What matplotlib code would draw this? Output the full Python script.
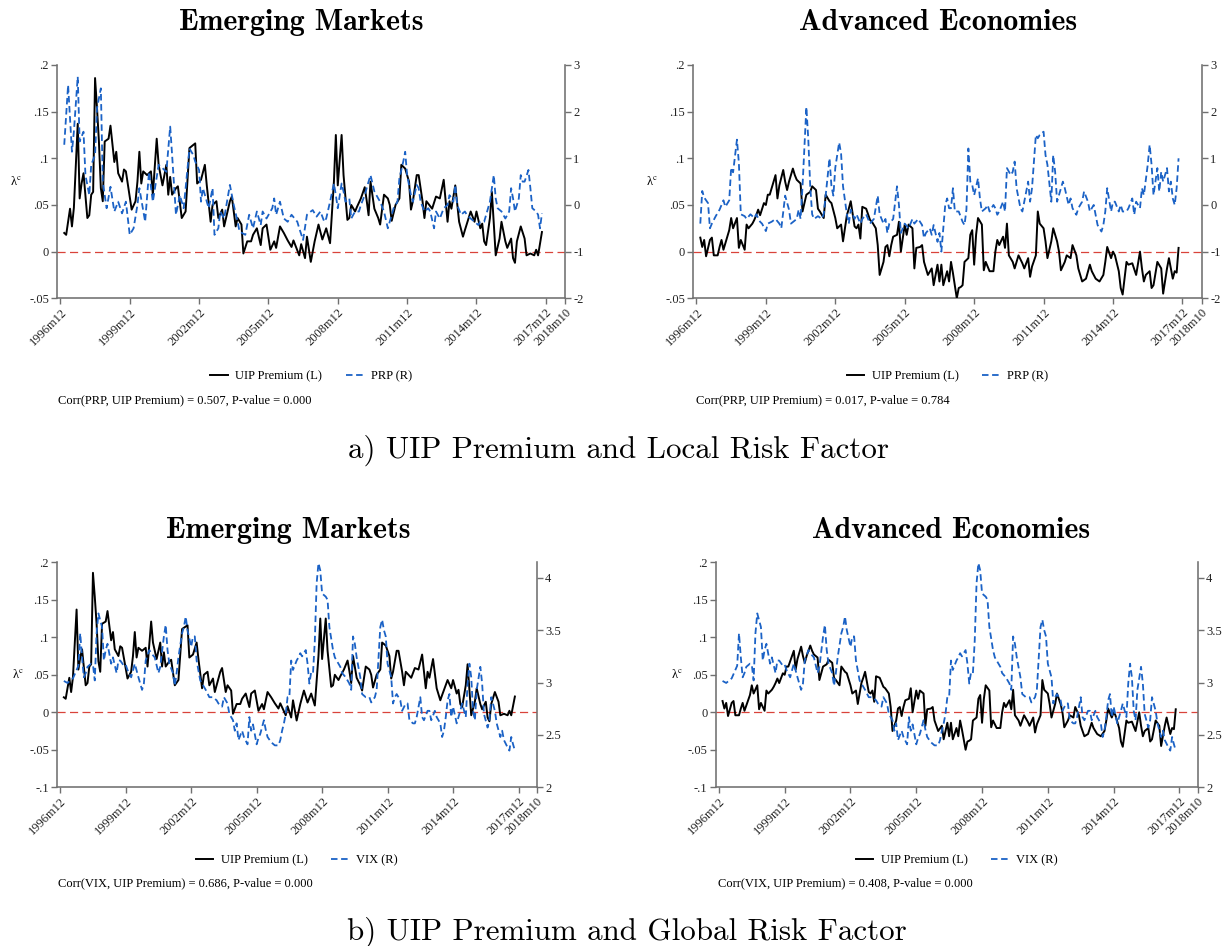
import matplotlib
matplotlib.use("Agg")
import matplotlib.pyplot as plt
from matplotlib.lines import Line2D

plt.rcParams['font.family'] = ['Liberation Serif', 'DejaVu Serif']
plt.rcParams['mathtext.fontset'] = 'stix'

# x axis: months counted from 1996m12
tick_pos = [0, 36, 72, 108, 144, 180, 216, 252, 262]
tick_lab = ['1996m12', '1999m12', '2002m12', '2005m12', '2008m12',
            '2011m12', '2014m12', '2017m12', '2018m10']

# UIP premium, emerging markets (left axis)
em_uip_t = [2, 3, 5, 6, 7, 9, 10, 11, 12, 14,
            15, 16, 17, 18, 19, 20, 21, 22, 23, 25,
            26, 28, 29, 30, 32, 33, 34, 37, 39, 40,
            41, 42, 43, 45, 47, 48, 50, 51, 53, 55,
            56, 57, 58, 60, 61, 63, 65, 67, 70, 71,
            73, 75, 76, 78, 79, 81, 82, 84, 85, 88,
            89, 91, 92, 94, 95, 97, 99, 100, 102, 104,
            105, 107, 109, 111, 112, 114, 116, 118, 120, 121,
            124, 125, 127, 128, 130, 132, 134, 136, 138, 140,
            142, 143, 144, 146, 147, 149, 150, 151, 153, 154,
            156, 158, 159, 160, 161, 163, 165, 166, 168, 170,
            171, 172, 174, 176, 177, 179, 181, 182, 183, 185,
            186, 188, 189, 190, 193, 195, 197, 199, 201, 202,
            203, 205, 207, 209, 210, 213, 215, 216, 218, 219,
            220, 221, 223, 224, 226, 228, 229, 231, 232, 234,
            235, 236, 237, 239, 241, 242, 244, 246, 247, 248,
            250]
em_uip = [.020, .018, .046, .027, .047, .137, .057, .073, .084, .036,
          .039, .061, .064, .186, .154, .118, .068, .054, .118, .121,
          .135, .096, .107, .084, .075, .088, .086, .045, .054, .075,
          .107, .073, .086, .082, .086, .061, .121, .093, .071, .093,
          .061, .080, .061, .068, .070, .036, .043, .111, .116, .073,
          .077, .093, .071, .032, .050, .054, .036, .045, .027, .054,
          .059, .027, .036, .029, -.002, .011, .011, .018, .025, .007,
          .025, .029, .002, .011, .004, .027, .020, .012, .005, .012,
          -.004, .008, -.007, .016, -.011, .011, .029, .013, .025, .009,
          .075, .125, .071, .125, .082, .034, .036, .050, .043, .048,
          .057, .069, .055, .039, .075, .046, .036, .029, .061, .057,
          .050, .033, .050, .057, .093, .089, .075, .045, .054, .082,
          .082, .054, .036, .054, .046, .059, .057, .077, .032, .054,
          .046, .071, .032, .016, .023, .043, .032, .043, .025, .030,
          .011, .007, .036, .064, -.004, .014, .032, .011, .004, .014,
          -.007, -.012, .011, .027, .014, -.004, -.002, -.004, .002, -.004,
          .021]

# PRP, emerging markets (right axis)
em_prp_t = [2, 4, 6, 7, 9, 10, 12, 13, 15, 16,
            18, 19, 21, 22, 24, 26, 28, 30, 32, 34,
            36, 38, 40, 41, 44, 46, 48, 51, 53, 55,
            57, 58, 60, 62, 64, 65, 67, 69, 70, 72,
            73, 74, 76, 77, 79, 80, 82, 83, 85, 88,
            90, 92, 93, 96, 98, 100, 102, 104, 105, 107,
            110, 111, 112, 114, 116, 118, 120, 123, 124, 126,
            128, 130, 131, 133, 135, 137, 138, 140, 142, 143,
            144, 146, 147, 148, 150, 151, 153, 155, 156, 158,
            159, 161, 163, 165, 166, 168, 170, 172, 173, 175,
            176, 178, 179, 180, 182, 183, 185, 186, 187, 189,
            191, 192, 194, 195, 197, 199, 201, 202, 204, 205,
            206, 208, 210, 211, 213, 215, 217, 218, 220, 222,
            223, 225, 226, 227, 229, 231, 233, 234, 235, 236,
            238, 239, 240, 241, 243, 244, 245, 247, 248, 249,
            250]
em_prp = [1.29, 2.57, 1.14, 1.57, 2.75, 1.36, 1.57, 0.64, 0.21, 0.86,
          1.07, 2.07, 2.5, 0.5, -0.07, 0.39, -0.14, 0.07, -0.18, 0.07,
          -0.64, -0.5, 0.0, 0.36, -0.36, 0.71, 0.07, 0.86, 0.79, 0.71,
          1.68, 1.07, -0.21, 0.21, -0.07, 0.36, 1.21, 1.07, 0.93, 0.75,
          0.07, 0.36, 0.07, -0.07, 0.36, -0.64, -0.5, -0.14, -0.29, 0.43,
          0.0, -0.36, -0.57, -0.64, -0.21, -0.5, -0.14, -0.43, -0.14, -0.29,
          -0.07, 0.14, -0.21, 0.07, -0.29, -0.36, -0.21, -0.36, -0.5, -0.75,
          -0.21, -0.14, -0.11, -0.25, -0.14, -0.36, -0.29, 0.07, 0.46, 0.21,
          -0.07, 0.46, 0.29, 0.07, 0.14, -0.29, -0.14, -0.14, 0.0, 0.21,
          0.36, 0.64, 0.29, 0.14, 0.07, -0.14, -0.5, -0.21, -0.07, 0.07,
          0.57, 0.93, 1.14, 0.64, 0.21, 0.07, 0.43, 0.36, 0.07, -0.14,
          -0.07, -0.14, -0.5, -0.14, -0.29, -0.07, 0.0, 0.21, 0.07, 0.43,
          0.0, -0.21, -0.14, -0.21, -0.29, -0.36, -0.43, -0.36, -0.36, -0.07,
          0.07, 0.64, 0.14, -0.07, -0.14, -0.29, -0.14, 0.36, 0.14, -0.14,
          0.14, 0.64, 0.5, 0.5, 0.75, 0.36, -0.07, -0.14, -0.21, -0.5,
          -0.18]

# UIP premium, advanced economies (left axis)
ae_uip_t = [2, 3, 4, 5, 6, 7, 8, 9, 11, 12,
            13, 14, 15, 17, 18, 19, 21, 22, 23, 25,
            26, 27, 29, 30, 31, 32, 33, 35, 36, 37,
            38, 39, 41, 42, 43, 45, 46, 47, 48, 50,
            51, 52, 54, 55, 57, 59, 60, 62, 63, 64,
            66, 67, 69, 70, 72, 73, 75, 76, 78, 79,
            80, 82, 83, 84, 85, 86, 88, 90, 91, 93,
            94, 95, 97, 98, 99, 100, 101, 102, 104, 105,
            106, 108, 109, 110, 112, 113, 114, 116, 117, 118,
            120, 122, 123, 125, 126, 127, 128, 130, 131, 132,
            133, 135, 136, 137, 138, 139, 141, 142, 143, 144,
            145, 146, 148, 149, 150, 152, 154, 155, 156, 157,
            159, 160, 161, 162, 164, 165, 167, 169, 170, 172,
            173, 174, 176, 177, 178, 180, 181, 182, 184, 185,
            187, 188, 189, 191, 192, 194, 195, 197, 198, 200,
            202, 204, 205, 207, 209, 211, 212, 213, 215, 216,
            217, 219, 220, 221, 223, 224, 226, 228, 230, 231,
            232, 233, 235, 236, 237, 239, 241, 242, 244, 245,
            247, 248, 249, 250]
ae_uip = [.015, .005, .0125, -.005, .004, .0125, .015, -.004, -.004, .005,
          .0125, .002, .009, .023, .036, .025, .036, .004, .0125, .002,
          .029, .025, .030, .034, .039, .045, .039, .052, .050, .061,
          .061, .068, .082, .057, .071, .0875, .075, .066, .075, .089,
          .082, .077, .073, .043, .061, .064, .070, .066, .046, .043,
          .036, .061, .054, .052, .036, .025, .029, .011, .039, .046,
          .054, .027, .025, .029, .014, .048, .046, .034, .032, .025,
          .007, -.025, -.011, .005, .007, -.005, .007, .016, .018, .032,
          .000, .029, .018, .029, .025, -.018, .004, .005, .007, -.011,
          -.025, -.018, -.036, -.014, -.032, -.014, -.036, -.021, -.032, -.011,
          -.023, -.050, -.039, -.038, -.036, -.011, -.007, .018, .023, -.014,
          .018, .036, .029, -.020, -.011, -.021, -.021, .000, .0125, .007,
          .016, .004, .030, -.004, -.011, -.018, -.004, -.0125, -.018, -.007,
          -.027, -.016, -.004, .043, .030, .025, .011, -.007, .011, .025,
          .011, .000, -.020, -.011, -.004, -.007, .007, -.004, -.018, -.032,
          -.029, -.014, -.021, -.029, -.032, -.025, -.011, .005, -.007, .000,
          -.004, -.021, -.039, -.046, -.011, -.014, -.0125, -.025, .000, -.018,
          -.032, -.025, -.021, -.039, -.036, -.011, -.018, -.045, -.018, -.007,
          -.029, -.021, -.0225, .004]

# PRP, advanced economies (right axis)
ae_prp_t = [2, 3, 4, 5, 6, 7, 8, 10, 12, 13,
            14, 15, 17, 18, 19, 21, 22, 23, 25, 26,
            28, 30, 31, 33, 34, 36, 37, 39, 41, 43,
            44, 46, 48, 49, 52, 53, 54, 55, 57, 58,
            59, 60, 61, 63, 65, 66, 67, 69, 70, 71,
            72, 74, 75, 76, 78, 79, 80, 82, 83, 85,
            86, 88, 90, 92, 94, 95, 97, 98, 99, 100,
            102, 104, 105, 106, 108, 110, 112, 113, 115, 117,
            118, 119, 121, 122, 123, 125, 126, 127, 129, 130,
            131, 132, 133, 134, 136, 138, 139, 140, 141, 142,
            143, 144, 146, 147, 148, 150, 151, 152, 154, 155,
            156, 157, 159, 160, 161, 163, 164, 165, 166, 168,
            169, 170, 172, 173, 174, 176, 177, 178, 180, 181,
            182, 184, 185, 186, 187, 189, 190, 191, 193, 194,
            195, 197, 198, 200, 201, 203, 204, 206, 207, 208,
            210, 211, 212, 213, 215, 216, 217, 219, 220, 221,
            223, 224, 226, 227, 228, 230, 231, 232, 234, 235,
            236, 237, 238, 239, 240, 241, 242, 244, 245, 246,
            247, 248, 249, 250]
ae_prp = [-0.4, 0.3, 0.16, 0.1, 0.04, -0.5, -0.4, -0.24, -0.1, 0.0,
          0.1, -0.04, 0.1, 0.8, 0.7, 1.4, 0.9, -0.2, -0.24, -0.3,
          -0.2, -0.28, -0.2, -0.36, -0.4, -0.56, -0.4, -0.36, -0.3, -0.4,
          -0.5, 0.2, -0.1, -0.4, -0.3, -0.1, -0.3, 0.4, 2.1, 1.4,
          0.4, -0.2, -0.3, -0.24, -0.3, -0.2, 0.2, 1.0, 0.4, 0.2,
          0.8, 1.34, 1.1, 0.4, -0.2, -0.4, -0.1, -0.3, -0.2, -0.4,
          -0.3, -0.2, -0.4, -0.3, 0.2, -0.2, -0.4, -0.3, -0.6, -0.4,
          -0.3, 0.4, 0.0, -0.6, -0.4, -0.5, -0.3, -0.4, -0.3, -0.43,
          -0.71, -0.6, -0.5, -0.64, -0.43, -0.79, -0.6, -1.0, 0.0, 0.14,
          -0.07, -0.07, 0.36, -0.14, -0.14, -0.36, -0.43, -0.1, 1.21, 0.5,
          0.43, 0.21, 0.57, 0.14, -0.14, -0.07, 0.0, -0.14, 0.0, -0.07,
          -0.21, -0.14, 0.07, -0.14, 0.79, 0.64, 0.71, 0.93, 0.36, -0.07,
          -0.14, 0.07, 0.5, 0.07, 0.36, 1.5, 1.43, 1.5, 1.57, 1.07,
          0.86, 0.07, 1.07, 0.71, 0.07, 0.36, 0.5, 0.36, 0.0, 0.14,
          -0.07, -0.21, -0.07, 0.07, 0.29, 0.07, -0.14, 0.0, -0.21, -0.43,
          -0.57, -0.43, -0.14, 0.36, -0.14, 0.07, 0.07, -0.14, 0.0, -0.14,
          -0.14, -0.07, 0.14, -0.21, 0.07, -0.07, 0.36, 0.21, 0.86, 1.29,
          0.86, 0.21, 0.5, 0.79, 0.29, 0.71, 0.5, 0.79, 0.29, 0.5,
          0.14, 0.0, 0.36, 1.0]

# VIX (log, right axis), same series in both lower panels
vix_t = [2, 4, 7, 9, 10, 11, 12, 13, 14, 15,
         17, 18, 19, 20, 21, 23, 24, 25, 26, 28,
         29, 31, 32, 33, 35, 36, 37, 39, 41, 43,
         45, 46, 47, 49, 50, 52, 54, 55, 57, 58,
         59, 60, 62, 63, 64, 65, 67, 68, 69, 70,
         72, 73, 74, 75, 77, 79, 80, 82, 84, 86,
         87, 89, 90, 92, 93, 95, 96, 97, 98, 100,
         101, 103, 104, 105, 106, 108, 109, 110, 112, 113,
         114, 116, 118, 120, 121, 122, 123, 124, 125, 126,
         127, 128, 130, 131, 132, 133, 135, 136, 137, 138,
         139, 140, 141, 142, 143, 144, 146, 147, 148, 150,
         151, 152, 154, 155, 157, 158, 159, 160, 161, 162,
         163, 165, 166, 168, 170, 171, 173, 174, 176, 177,
         178, 179, 180, 182, 183, 184, 185, 187, 188, 190,
         191, 192, 194, 195, 196, 198, 199, 200, 202, 203,
         204, 206, 207, 209, 210, 211, 212, 213, 214, 215,
         216, 218, 219, 220, 221, 223, 224, 225, 226, 227,
         228, 229, 231, 232, 233, 235, 236, 237, 239, 240,
         242, 243, 244, 246, 247, 248, 249, 250]
vix = [3.015, 2.996, 3.04, 3.12, 3.16, 3.47, 3.24, 3.05, 3.09, 3.15,
       3.18, 3.17, 3.02, 3.47, 3.66, 3.53, 3.21, 3.31, 3.37, 3.18,
       3.24, 3.09, 3.21, 3.21, 3.16, 3.17, 3.12, 3.05, 3.18, 3.05,
       2.93, 2.99, 3.21, 3.31, 3.28, 3.24, 3.09, 3.15, 3.44, 3.55,
       3.31, 3.18, 3.09, 2.97, 3.09, 3.24, 3.47, 3.53, 3.63, 3.5,
       3.34, 3.44, 3.44, 3.21, 3.02, 2.96, 2.93, 2.86, 2.86, 2.83,
       2.80, 2.77, 2.86, 2.80, 2.70, 2.64, 2.54, 2.61, 2.45, 2.54,
       2.48, 2.41, 2.67, 2.54, 2.60, 2.41, 2.47, 2.51, 2.64, 2.55,
       2.48, 2.43, 2.40, 2.40, 2.45, 2.54, 2.61, 2.70, 2.86, 2.86,
       3.21, 3.12, 3.21, 3.24, 3.28, 3.25, 3.31, 3.18, 2.99, 3.10,
       3.09, 3.40, 3.95, 4.14, 4.07, 3.85, 3.82, 3.79, 3.53, 3.31,
       3.24, 3.21, 3.15, 3.09, 3.05, 3.02, 2.99, 2.93, 3.44, 3.37,
       3.24, 3.05, 2.89, 2.86, 2.86, 2.81, 2.86, 2.93, 3.53, 3.60,
       3.50, 3.44, 3.18, 3.05, 2.80, 2.86, 2.89, 2.83, 2.73, 2.80,
       2.80, 2.64, 2.61, 2.61, 2.67, 2.86, 2.67, 2.64, 2.73, 2.73,
       2.64, 2.73, 2.67, 2.61, 2.48, 2.54, 2.67, 2.83, 2.89, 2.67,
       2.77, 2.61, 2.67, 2.73, 2.80, 2.67, 2.99, 3.18, 3.05, 2.73,
       2.64, 2.93, 3.15, 2.99, 2.70, 2.57, 2.64, 2.86, 2.73, 2.61,
       2.48, 2.54, 2.45, 2.38, 2.35, 2.48, 2.41, 2.35]

corr_text = ['Corr(PRP, UIP Premium) = 0.507, P-value = 0.000',
             'Corr(PRP, UIP Premium) = 0.017, P-value = 0.784',
             'Corr(VIX, UIP Premium) = 0.686, P-value = 0.000',
             'Corr(VIX, UIP Premium) = 0.408, P-value = 0.000']

BLUE = '#1b62c6'
RED = '#d9433a'
AXC = '#707070'

fig = plt.figure(figsize=(12.22, 9.46), dpi=100)


def draw_panel(rect, t1, y1, t2, y2, ylim_l, yt_l, ylab_l, ylim_r, yt_r, ylab_r):
    ax = fig.add_axes(rect)
    ax.axhline(0, color=RED, lw=0.9, dashes=(6.5, 3.5), zorder=1)
    ax.plot(t1, y1, color='black', lw=1.4, zorder=3)
    ax.set_xlim(-1.6, 262)
    ax.set_ylim(*ylim_l)
    ax.set_yticks(yt_l)
    ax.set_yticklabels(ylab_l)
    ax.set_xticks(tick_pos)
    ax.set_xticklabels(tick_lab, rotation=45, ha='right', rotation_mode='anchor')
    ax.text(-0.082, 0.5, r'λ$^{\mathrm{c}}$', transform=ax.transAxes,
            ha='center', va='center', fontsize=9)

    ax2 = ax.twinx()
    ax2.plot(t2, y2, color=BLUE, lw=1.3, dashes=(3.6, 2))
    ax2.set_ylim(*ylim_r)
    ax2.set_yticks(yt_r)
    ax2.set_yticklabels(ylab_r)

    for s in ['top', 'right']:
        ax.spines[s].set_visible(False)
    for s in ['top', 'left', 'bottom']:
        ax2.spines[s].set_visible(False)
    for a in (ax, ax2):
        for sp in a.spines.values():
            sp.set_color(AXC)
            sp.set_linewidth(1.15)
        a.tick_params(direction='out', length=4, width=1.0, color=AXC,
                      labelcolor='#222222', labelsize=9, pad=2)
    return ax, ax2


top_l = ([-0.05, 0.2], [-0.05, 0, 0.05, 0.1, 0.15, 0.2],
         ['-.05', '0', '.05', '.1', '.15', '.2'])
top_r = ([-2, 3], [-2, -1, 0, 1, 2, 3], ['-2', '-1', '0', '1', '2', '3'])
bot_l = ([-0.1, 0.2], [-0.1, -0.05, 0, 0.05, 0.1, 0.15, 0.2],
         ['-.1', '-.05', '0', '.05', '.1', '.15', '.2'])
bot_r = ([2, 4.148], [2, 2.5, 3, 3.5, 4], ['2', '2.5', '3', '3.5', '4'])

draw_panel([0.0469, 0.6847, 0.4155, 0.2466], em_uip_t, em_uip, em_prp_t, em_prp, *top_l, *top_r)
draw_panel([0.5674, 0.6847, 0.4160, 0.2466], ae_uip_t, ae_uip, ae_prp_t, ae_prp, *top_l, *top_r)
draw_panel([0.0469, 0.1678, 0.3923, 0.2378], em_uip_t, em_uip, vix_t, vix, *bot_l, *bot_r)
draw_panel([0.5859, 0.1678, 0.3942, 0.2378], ae_uip_t, ae_uip, vix_t, vix, *bot_l, *bot_r)

# panel titles
title_kw = dict(family='cmb10', fontsize=21.5, ha='center', va='center')
fig.text(0.2467, 0.9767, 'Emerging Markets', **title_kw)
fig.text(0.7676, 0.9767, 'Advanced Economies', **title_kw)
fig.text(0.2361, 0.4395, 'Emerging Markets', **title_kw)
fig.text(0.7782, 0.4395, 'Advanced Economies', **title_kw)

# legends and correlation notes
h_uip = Line2D([], [], color='black', lw=1.4)
h_blue = Line2D([], [], color=BLUE, lw=1.3, dashes=(3.6, 2))
leg_spots = [(0.2545, 0.6025, 'PRP (R)'), (0.7754, 0.6025, 'PRP (R)'),
             (0.2430, 0.0909, 'VIX (R)'), (0.7830, 0.0909, 'VIX (R)')]
for cx, cy, lab in leg_spots:
    fig.legend([h_uip, h_blue], ['UIP Premium (L)', lab], loc='center',
               bbox_to_anchor=(cx, cy), ncol=2, frameon=False, fontsize=9,
               handlelength=1.4, handletextpad=0.6, columnspacing=1.9)

corr_spots = [(0.0475, 0.5772), (0.5696, 0.5772), (0.0475, 0.0666), (0.5876, 0.0666)]
for (x, y), txt in zip(corr_spots, corr_text):
    fig.text(x, y, txt, fontsize=9, ha='left', va='center')

# captions
fig.text(0.5065, 0.5243, 'a) UIP Premium and Local Risk Factor', family='cmr10',
         fontsize=22.3, ha='center', va='center')
fig.text(0.5127, 0.0148, 'b) UIP Premium and Global Risk Factor', family='cmr10',
         fontsize=22.3, ha='center', va='center')

fig.savefig('out.png', dpi=100)
